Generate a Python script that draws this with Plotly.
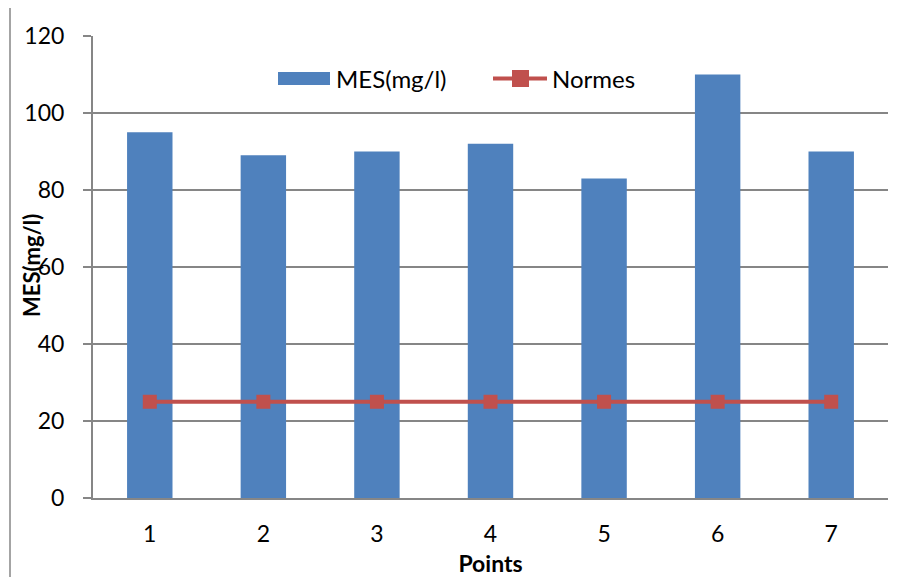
import plotly.graph_objects as go

# données
points = ["1", "2", "3", "4", "5", "6", "7"]
mes = [95, 89, 90, 92, 83, 110, 90]
normes = [25, 25, 25, 25, 25, 25, 25]

# la page ajoute une marge de 8 px autour du graphique
DEC = 8
W, H = 909 - DEC, 577 - DEC
L, R, T, B = 93 - DEC, 21, 36 - DEC, 79
pw, ph = W - L - R, H - T - B

police = "Lato, 'Open Sans', sans-serif"
bleu, rouge, gris = "#4F81BD", "#C0504D", "#868686"


def px_x(x):
    return (x - DEC - L) / pw


def px_y(y):
    return (H - B - (y - DEC)) / ph


fig = go.Figure()

fig.add_trace(go.Bar(
    x=points, y=mes, name="MES(mg/l)", showlegend=False,
    marker=dict(color=bleu, line=dict(width=0)),
))

fig.add_trace(go.Scatter(
    x=points, y=normes, name="Normes", mode="lines+markers", showlegend=False,
    line=dict(color=rouge, width=4),
    marker=dict(symbol="square", size=14, color=rouge),
))

# légende dessinée à la main (symboles larges comme dans Excel)
formes = [
    dict(type="rect", xref="paper", yref="paper",
         x0=px_x(278), x1=px_x(330), y0=px_y(85), y1=px_y(72),
         fillcolor=bleu, line=dict(width=0)),
    dict(type="line", xref="paper", yref="paper",
         x0=px_x(493), x1=px_x(547), y0=px_y(78.5), y1=px_y(78.5),
         line=dict(color=rouge, width=4)),
    dict(type="rect", xref="paper", yref="paper",
         x0=px_x(512), x1=px_x(529), y0=px_y(87), y1=px_y(70),
         fillcolor=rouge, line=dict(width=0)),
    # cadre du graphique
    dict(type="rect", xref="paper", yref="paper",
         x0=px_x(10), x1=px_x(907), y0=-0.5, y1=px_y(6),
         line=dict(color=gris, width=1.5), layer="below"),
]

notes = [
    dict(text="MES(mg/l)", x=px_x(334), y=px_y(78.5), xanchor="left"),
    dict(text="Normes", x=px_x(550), y=px_y(78.5), xanchor="left"),
    dict(text="<b>MES(mg/l)</b>", textangle=-90, x=px_x(31), y=px_y(266),
         xanchor="center"),
]
for n in notes:
    n.update(showarrow=False, xref="paper", yref="paper", yanchor="middle",
             font=dict(size=24 if "textangle" not in n else 22))

fig.update_layout(
    width=W, height=H,
    margin=dict(l=L, r=R, t=T, b=B),
    paper_bgcolor="white", plot_bgcolor="white",
    font=dict(family=police, size=22, color="black"),
    bargap=0.6,
    showlegend=False,
    xaxis=dict(
        automargin=False,
        showgrid=False, showline=True, linecolor=gris, linewidth=2,
        ticks="", tickfont=dict(size=23), ticklabelstandoff=14,
        title=dict(text="<b>Points</b>", font=dict(size=23), standoff=13),
    ),
    yaxis=dict(
        automargin=False,
        range=[0, 120], tickvals=[0, 20, 40, 60, 80, 100, 120],
        showgrid=True, gridcolor=gris, gridwidth=1.5,
        showline=True, linecolor=gris, linewidth=2,
        ticks="outside", ticklen=8, tickcolor=gris, tickwidth=1.5,
        tickfont=dict(size=23), zeroline=False, ticklabelstandoff=14,
    ),
    annotations=notes,
    shapes=formes,
)

fig.write_html("out.html")
